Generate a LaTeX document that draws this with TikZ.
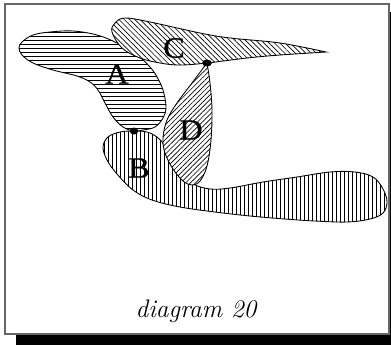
\documentclass[tikz,border=0pt]{standalone}
\usepackage{fontspec}
\newfontfamily\lblfont[FakeBold=0.8]{Liberation Serif}
\usetikzlibrary{patterns.meta}
\tikzset{
  region/.style={draw=black, line width=0.65pt, fill=white},
  hpat/.style={pattern={Lines[angle=0,distance=3pt,line width=0.5pt]}},
  vpat/.style={pattern={Lines[angle=90,distance=3pt,line width=0.55pt]}},
  nwpat/.style={pattern={Lines[angle=-45,distance=2.8pt,line width=0.5pt]}},
  nepat/.style={pattern={Lines[angle=45,distance=2.6pt,line width=0.5pt]}},
  lbl/.style={font=\lblfont\fontsize{22}{24}\selectfont, inner sep=0pt, xscale=1.1},
}
\begin{document}
\begin{tikzpicture}[x=0.75pt, y=-0.75pt]
\useasboundingbox (0,0) rectangle (391,344);
% shadow and frame
\fill[black] (16,12) rectangle (395,348);
\fill[white] (5,4) rectangle (389,334);
\draw[gray!80!black, line width=0.8pt] (5,4) rectangle (389,334);
% region A
\def\shapeA{plot[smooth cycle, tension=0.6] coordinates {
 (19,48) (22,42) (33,35) (50,32) (73,31) (97,35) (117,43) (137,55) (150,67)
 (157,77) (163,90) (166,107) (163,118) (155,127) (143,130) (134,131)
 (123,127) (113,117) (105,103) (98,90) (90,82) (77,76) (53,70) (33,63) (22,55)}}
\path[region] \shapeA;
\path[hpat] \shapeA;
% region B
\def\shapeB{plot[smooth cycle, tension=0.6] coordinates {
 (134,131) (147,132) (157,137) (164,145) (170,160) (180,174) (193,184) (210,189)
 (230,188) (263,182) (297,177) (330,172) (355,172) (373,177) (383,189) (387,202)
 (383,213) (370,219) (347,222) (315,221) (285,219) (250,216) (215,212) (180,207)
 (152,200) (133,190) (117,174) (107,160) (103,147) (108,137) (120,132)}}
\path[region] \shapeB;
\path[vpat] \shapeB;
% region C
\def\shapeC{plot[smooth, tension=0.6] coordinates {
 (326,52) (280,55) (247,58) (207,63) (180,65) (160,63) (140,58) (122,48) (112,32)
 (115,23) (125,18) (150,22) (200,33) (230,38) (280,43) (326,52)} -- cycle}
\path[region] \shapeC;
\path[nwpat] \shapeC;
% region D
\def\shapeD{plot[smooth, tension=0.6] coordinates {
 (207,63) (210,83) (212,110) (211,140) (207,166) (200,181) (192,185) (183,181)
 (173,169) (165,153) (163,138) (167,120) (177,103) (192,83) (207,63)} -- cycle}
\path[region] \shapeD;
\path[nepat] \shapeD;
% contact dots
\coordinate (dAB) at (134,131);
\coordinate (dCD) at (207,63);
\fill (dAB) ellipse [x radius=4.3, y radius=3.5];
\fill (dCD) ellipse [x radius=4.8, y radius=3.5];
% labels
\node[lbl] (lA) at (117,74) {A};
\node[lbl] (lC) at (174,48) {C};
\node[lbl] (lD) at (191,130) {D};
\node[lbl] (lB) at (139,168) {B};
% caption
\node[inner sep=0pt, font=\fontsize{19}{22}\selectfont\itshape] (cap) at (196,311) {diagram 20};
\end{tikzpicture}
\end{document}
